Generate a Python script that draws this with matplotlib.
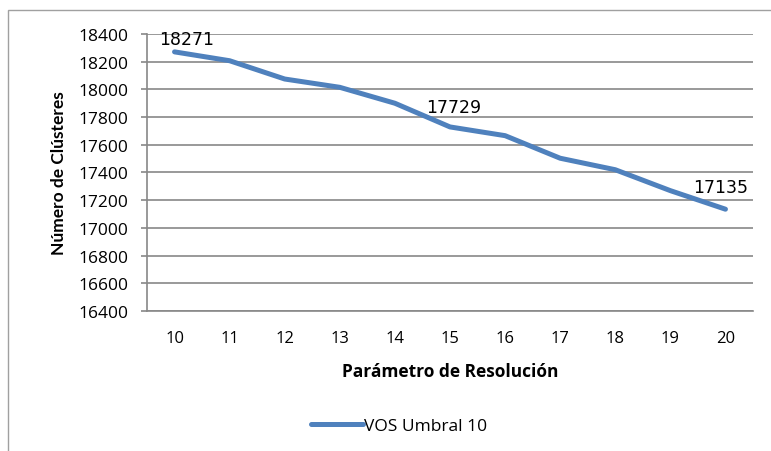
import matplotlib
matplotlib.use("Agg")
import matplotlib.pyplot as plt
from matplotlib.patches import Rectangle

# Data
categories = ["10", "11", "12", "13", "14", "15", "16", "17", "18", "19", "20"]
values = [18271, 18207, 18075, 18015, 17900, 17729, 17666, 17503, 17420, 17269, 17135]
labeled_points = [0, 5, 10]
series_name = "VOS Umbral 10"
y_ticks = [16400, 16600, 16800, 17000, 17200, 17400, 17600, 17800, 18000, 18200, 18400]
x_title = "Parámetro de Resolución"
y_title = "Número de Clústeres"

FONT = ["Open Sans", "DejaVu Sans"]
VFONT = ["Lato", "DejaVu Sans"]
GRID = "#888888"
LINE = "#4F81BD"

fig = plt.figure(figsize=(7.71, 4.52), dpi=100)
W, H = 771, 452

# outer chart border (extends beyond right/bottom edges)
fig.patches.append(Rectangle((8 / W, -0.05), 1.2, (H - 11) / H + 0.05,
                             transform=fig.transFigure, fill=False,
                             edgecolor="#A0A0A0", linewidth=1.0))

ax = fig.add_axes([147 / W, 1 - 312 / H, (753 - 147) / W, (312 - 35) / H])
x = list(range(len(categories)))
line, = ax.plot(x, values, color=LINE, linewidth=3.6, solid_capstyle="round",
                solid_joinstyle="round", label=series_name, zorder=3)

ax.set_xlim(-0.5, len(categories) - 0.5)
ax.set_ylim(y_ticks[0], y_ticks[-1])
ax.set_yticks(y_ticks)
ax.set_yticklabels([str(t) for t in y_ticks], family=FONT, fontsize=12.5)
ax.set_xticks(x)
ax.set_xticklabels(categories, family=FONT, fontsize=12)

ax.yaxis.grid(True, color=GRID, linewidth=1.2)
ax.set_axisbelow(True)
for s in ["top", "right"]:
    ax.spines[s].set_visible(False)
for s in ["left", "bottom"]:
    ax.spines[s].set_color(GRID)
    ax.spines[s].set_linewidth(1.2)
ax.tick_params(axis="y", direction="out", length=4, width=1.2, color=GRID, pad=9.5)
ax.tick_params(axis="x", length=0, pad=14)

ax.set_xlabel(x_title, family=FONT, fontsize=12.5, fontweight="bold", labelpad=11)
ax.set_ylabel(y_title, family=VFONT, fontsize=12.5, fontweight="bold", labelpad=8)

offsets = {0: (12, 13), 5: (4, 20), 10: (-5, 22)}
for i in labeled_points:
    dx, dy = offsets[i]
    ax.annotate(str(values[i]), (x[i], values[i]), xytext=(dx, dy),
                textcoords="offset pixels", ha="center", va="center",
                family="DejaVu Sans", fontsize=12.5, color="#000000",
                annotation_clip=False)

fig.legend(handles=[line], labels=[series_name], loc="center",
           bbox_to_anchor=(399 / W, 1 - 427 / H), frameon=False,
           prop={"family": FONT, "size": 12.5}, handlelength=3.0, handletextpad=0.1)

fig.savefig("out.png", dpi=100)
